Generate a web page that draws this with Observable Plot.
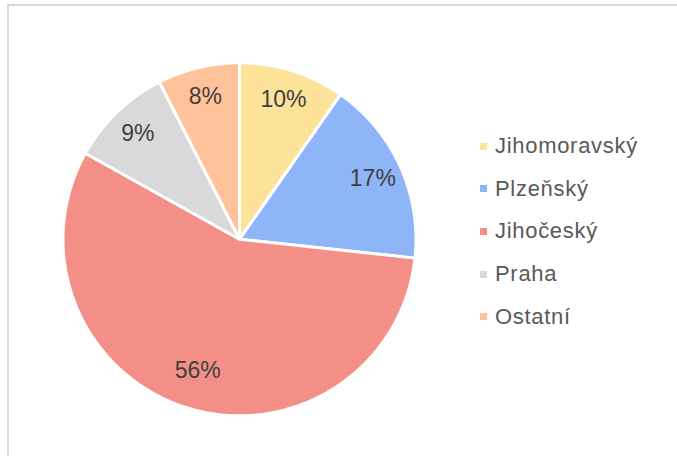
<!DOCTYPE html>
<html>
<head>
<meta charset="utf-8">
<script src="https://cdn.jsdelivr.net/npm/d3@7"></script>
<script src="https://cdn.jsdelivr.net/npm/@observablehq/plot@0.6"></script>
<style>
  html, body { margin: 0; padding: 0; background: #fff; }
  #wrap { position: relative; width: 677px; height: 456px; overflow: hidden; font-family: "Liberation Sans", Arial, sans-serif; }
  #frame { position: absolute; left: 7px; top: 4px; width: 700px; height: 500px; border-left: 2px solid #d9d9d9; border-top: 2px solid #d9d9d9; box-sizing: border-box; }
  #chart { position: absolute; left: 0; top: 0; }
  #legend { position: absolute; left: 480px; top: 125px; }
  .item { display: flex; align-items: center; height: 42.6px; font-size: 22px; color: #595959; letter-spacing: 0.7px; }
  .sw { width: 7px; height: 7px; margin-right: 8px; }
</style>
</head>
<body>
<div id="wrap"><div id="frame"></div><div id="chart"></div><div id="legend"></div></div>
<script>
const categories = ["Jihomoravský", "Plzeňský", "Jihočeský", "Praha", "Ostatní"];
const shares = [9.7, 17.0, 56.4, 9.4, 7.5];
const colors = ["#fde39a", "#8db5f8", "#f38f87", "#d9d9d9", "#ffc29b"];

const data = categories.map((name, i) => ({name, value: shares[i]}));
const arcs = d3.pie().sort(null).value(d => d.value)(data);

const pts = [];
const labels = [];
for (const a of arcs) {
  const n = 120;
  pts.push({name: a.data.name, x: 0, y: 0});
  for (let k = 0; k <= n; k++) {
    const t = a.startAngle + (a.endAngle - a.startAngle) * k / n;
    pts.push({name: a.data.name, x: Math.sin(t), y: Math.cos(t)});
  }
  pts.push({name: a.data.name, x: 0, y: 0});
  const m = (a.startAngle + a.endAngle) / 2;
  const r = a.data.value > 50 ? 0.78 : 0.83;
  labels.push({name: a.data.name, x: r * Math.sin(m), y: r * Math.cos(m), text: Math.round(a.data.value) + "%"});
}

const chart = Plot.plot({
  width: 677,
  height: 456,
  marginLeft: 62.5,
  marginRight: 261.5,
  marginTop: 62.3,
  marginBottom: 40.7,
  x: {domain: [-1, 1], axis: null},
  y: {domain: [-1, 1], axis: null},
  color: {domain: categories, range: colors},
  style: {fontFamily: "Liberation Sans, Arial, sans-serif", background: "transparent"},
  marks: [
    Plot.line(pts, {x: "x", y: "y", z: "name", fill: "name", stroke: "white", strokeWidth: 3, strokeLinejoin: "round"}),
    Plot.text(labels, {x: "x", y: "y", text: "text", fontSize: 23, fill: "#404040"})
  ]
});
document.getElementById("chart").appendChild(chart);

const legend = document.getElementById("legend");
categories.forEach((c, i) => {
  const it = document.createElement("div");
  it.className = "item";
  const sw = document.createElement("span");
  sw.className = "sw";
  sw.style.background = colors[i];
  const tx = document.createElement("span");
  tx.textContent = c;
  it.appendChild(sw); it.appendChild(tx);
  legend.appendChild(it);
});
</script>
</body>
</html>
